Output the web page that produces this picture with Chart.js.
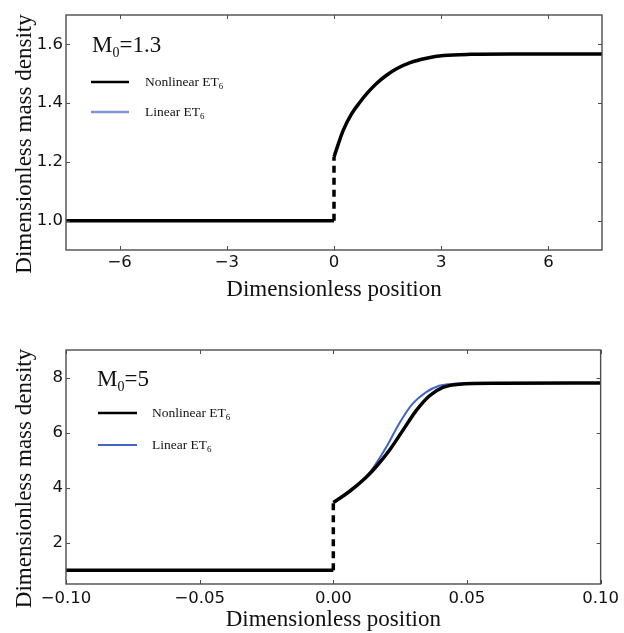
<!DOCTYPE html>
<html>
<head>
<meta charset="utf-8">
<script src="https://cdn.jsdelivr.net/npm/chart.js@4.4.1/dist/chart.umd.min.js"></script>
<style>
  body { margin: 0; background: #fff; }
  #wrap { position: relative; width: 624px; height: 633px; }
  canvas { position: absolute; left: 0; }
  #top { top: 0; }
  #bottom { top: 316px; }
</style>
</head>
<body>
<div id="wrap">
  <canvas id="top" width="624" height="316"></canvas>
  <canvas id="bottom" width="624" height="317"></canvas>
</div>
<script>
// top panel, M0 = 1.3
const topFlatX = [-7.5, 0];
const topFlatY = [1, 1];
const topJumpX = [0, 0];
const topJumpY = [1, 1.217];
const topCurveX = [0, 0.26, 0.5, 0.73, 0.96, 1.19, 1.47, 1.75, 2.13, 2.59, 3.06, 3.81, 5, 7.5];
const topNonlinY = [1.217, 1.308, 1.365, 1.404, 1.438, 1.467, 1.495, 1.517, 1.538, 1.553, 1.562, 1.566, 1.567, 1.567];
const topLinY = [1.217, 1.308, 1.365, 1.404, 1.438, 1.467, 1.495, 1.517, 1.538, 1.553, 1.562, 1.566, 1.567, 1.567];
const topXTicks = [-6, -3, 0, 3, 6];
const topXLabels = ['\u22126', '\u22123', '0', '3', '6'];
const topYTicks = [1.0, 1.2, 1.4, 1.6];
const topYLabels = ['1.0', '1.2', '1.4', '1.6'];

// bottom panel, M0 = 5
const botFlatX = [-0.1, 0];
const botFlatY = [1, 1];
const botJumpX = [0, 0];
const botJumpY = [1, 3.46];
const botNonlinX = [0, 0.006, 0.012, 0.016, 0.021, 0.026, 0.031, 0.036, 0.041, 0.047, 0.062, 0.1];
const botNonlinY = [3.46, 3.86, 4.35, 4.76, 5.36, 6.08, 6.80, 7.34, 7.64, 7.76, 7.79, 7.8];
const botLinX = [0, 0.006, 0.012, 0.0155, 0.02, 0.0246, 0.0296, 0.0346, 0.0396, 0.045, 0.055, 0.1];
const botLinY = [3.46, 3.86, 4.35, 4.8, 5.5, 6.32, 7.04, 7.46, 7.70, 7.77, 7.79, 7.8];
const botXTicks = [-0.1, -0.05, 0, 0.05, 0.1];
const botXLabels = ['\u22120.10', '\u22120.05', '0.00', '0.05', '0.10'];
const botYTicks = [2, 4, 6, 8];
const botYLabels = ['2', '4', '6', '8'];

const serif = '"Liberation Serif", "Times New Roman", serif';
const sans = '"DejaVu Sans", sans-serif';
// trailing no-break spaces push the rotated label a little below centre, as in the original
const yTitle = 'Dimensionless mass density\u00a0\u00a0\u00a0\u00a0';

function pts(xs, ys) {
  return xs.map((x, i) => ({x: x, y: ys[i]}));
}

// box around the plot with ticks pointing inwards on all four sides
const frameTicks = {
  id: 'frameTicks',
  afterDatasetsDraw(chart) {
    const {ctx, chartArea: a, scales} = chart;
    const len = 4;
    ctx.save();
    ctx.strokeStyle = '#4d4d4d';
    ctx.lineWidth = 1.4;
    ctx.strokeRect(a.left, a.top, a.right - a.left, a.bottom - a.top);
    ctx.lineWidth = 1;
    ctx.beginPath();
    scales.x.ticks.forEach(t => {
      const px = Math.round(scales.x.getPixelForValue(t.value)) + 0.5;
      ctx.moveTo(px, a.bottom); ctx.lineTo(px, a.bottom - len);
      ctx.moveTo(px, a.top); ctx.lineTo(px, a.top + len);
    });
    scales.y.ticks.forEach(t => {
      const py = Math.round(scales.y.getPixelForValue(t.value)) + 0.5;
      ctx.moveTo(a.left, py); ctx.lineTo(a.left + len, py);
      ctx.moveTo(a.right, py); ctx.lineTo(a.right - len, py);
    });
    ctx.stroke();
    ctx.restore();
  }
};

// legend drawn inside the plot, with M_0 heading and ET_6 subscripts
const insetLegend = {
  id: 'insetLegend',
  afterDraw(chart, args, o) {
    const {ctx, chartArea: a} = chart;
    ctx.save();
    ctx.fillStyle = '#111';
    ctx.textBaseline = 'alphabetic';
    let x = a.left + o.titleX;
    const y = a.top + o.titleY;
    ctx.font = '23px ' + serif;
    ctx.fillText('M', x, y);
    x += ctx.measureText('M').width;
    ctx.font = '14px ' + serif;
    ctx.fillText('0', x, y + 5);
    x += ctx.measureText('0').width;
    ctx.font = '23px ' + serif;
    ctx.fillText(o.titleRest, x, y);

    o.entries.forEach((e, i) => {
      const ly = a.top + o.rowY + i * o.rowGap;
      ctx.strokeStyle = e.color;
      ctx.lineWidth = e.width;
      ctx.beginPath();
      ctx.moveTo(a.left + o.lineX, ly);
      ctx.lineTo(a.left + o.lineX + o.lineLen, ly);
      ctx.stroke();
      ctx.textBaseline = 'middle';
      ctx.font = '13.5px ' + serif;
      let tx = a.left + o.textX;
      ctx.fillText(e.label, tx, ly);
      tx += ctx.measureText(e.label).width;
      ctx.font = '9px ' + serif;
      ctx.fillText(e.sub, tx, ly + 5);
    });
    ctx.restore();
  }
};

function makeChart(id, d) {
  const ctx = document.getElementById(id).getContext('2d');
  return new Chart(ctx, {
    type: 'line',
    data: {
      datasets: [
        {data: pts(d.flatX, d.flatY), borderColor: '#000', borderWidth: 3.5, pointRadius: 0, tension: 0},
        {data: pts(d.jumpX, d.jumpY), borderColor: '#000', borderWidth: 3.5, pointRadius: 0, tension: 0, borderDash: [7, 5]},
        {label: 'Nonlinear ET6', data: pts(d.nonX, d.nonY), borderColor: '#000', borderWidth: 3.5, pointRadius: 0, cubicInterpolationMode: 'monotone'},
        {label: 'Linear ET6', data: pts(d.linX, d.linY), borderColor: d.blue, borderWidth: 2, pointRadius: 0, cubicInterpolationMode: 'monotone'}
      ]
    },
    options: {
      responsive: false,
      animation: false,
      events: [],
      layout: {padding: {top: d.padTop, right: 22, left: 0, bottom: 0}},
      scales: {
        x: {
          type: 'linear',
          min: d.xMin, max: d.xMax,
          afterBuildTicks: s => { s.ticks = d.xTicks.map(v => ({value: v})); },
          afterFit: s => { s.height = d.xAxisH; },
          grid: {display: false, drawTicks: false},
          border: {display: false},
          ticks: {
            autoSkip: false, maxRotation: 0, padding: d.xTickPad,
            color: '#111', font: {family: sans, size: 16.5},
            callback: (v, i) => d.xLabels[i]
          },
          title: {
            display: true, text: 'Dimensionless position', color: '#111',
            font: {family: serif, size: 23, lineHeight: 1.1},
            padding: {top: 0, bottom: d.xTitlePad}
          }
        },
        y: {
          type: 'linear',
          min: d.yMin, max: d.yMax,
          afterBuildTicks: s => { s.ticks = d.yTicks.map(v => ({value: v})); },
          afterFit: s => { s.width = 66; },
          grid: {display: false, drawTicks: false},
          border: {display: false},
          ticks: {
            autoSkip: false, padding: 3,
            color: '#111', font: {family: sans, size: 16.5},
            callback: (v, i) => d.yLabels[i]
          },
          title: {
            display: true, text: yTitle, color: '#111',
            font: {family: serif, size: 23, lineHeight: 1.1},
            padding: {top: 12, bottom: 0}
          }
        }
      },
      plugins: {
        legend: {display: false},
        tooltip: {enabled: false},
        insetLegend: d.legend
      }
    },
    plugins: [frameTicks, insetLegend]
  });
}

makeChart('top', {
  flatX: topFlatX, flatY: topFlatY, jumpX: topJumpX, jumpY: topJumpY,
  nonX: topCurveX, nonY: topNonlinY, linX: topCurveX, linY: topLinY,
  blue: '#8393d6',
  xMin: -7.5, xMax: 7.5, yMin: 0.9, yMax: 1.7,
  xTicks: topXTicks, xLabels: topXLabels, yTicks: topYTicks, yLabels: topYLabels,
  padTop: 15, xAxisH: 66, xTickPad: 3, xTitlePad: 13,
  legend: {
    titleX: 26, titleY: 37, titleRest: '=1.3',
    lineX: 25, lineLen: 38, textX: 79, rowY: 67, rowGap: 30,
    entries: [
      {label: 'Nonlinear ET', sub: '6', color: '#000', width: 2.5},
      {label: 'Linear ET', sub: '6', color: '#8393d6', width: 2.5}
    ]
  }
});

makeChart('bottom', {
  flatX: botFlatX, flatY: botFlatY, jumpX: botJumpX, jumpY: botJumpY,
  nonX: botNonlinX, nonY: botNonlinY, linX: botLinX, linY: botLinY,
  blue: '#3f66c4',
  xMin: -0.1, xMax: 0.1, yMin: 0.5, yMax: 9,
  xTicks: botXTicks, xLabels: botXLabels, yTicks: botYTicks, yLabels: botYLabels,
  padTop: 34, xAxisH: 49, xTickPad: 5, xTitlePad: 0,
  legend: {
    titleX: 31, titleY: 36, titleRest: '=5',
    lineX: 32, lineLen: 39, textX: 86, rowY: 63, rowGap: 32,
    entries: [
      {label: 'Nonlinear ET', sub: '6', color: '#000', width: 2.5},
      {label: 'Linear ET', sub: '6', color: '#3f66c4', width: 2}
    ]
  }
});
</script>
</body>
</html>
